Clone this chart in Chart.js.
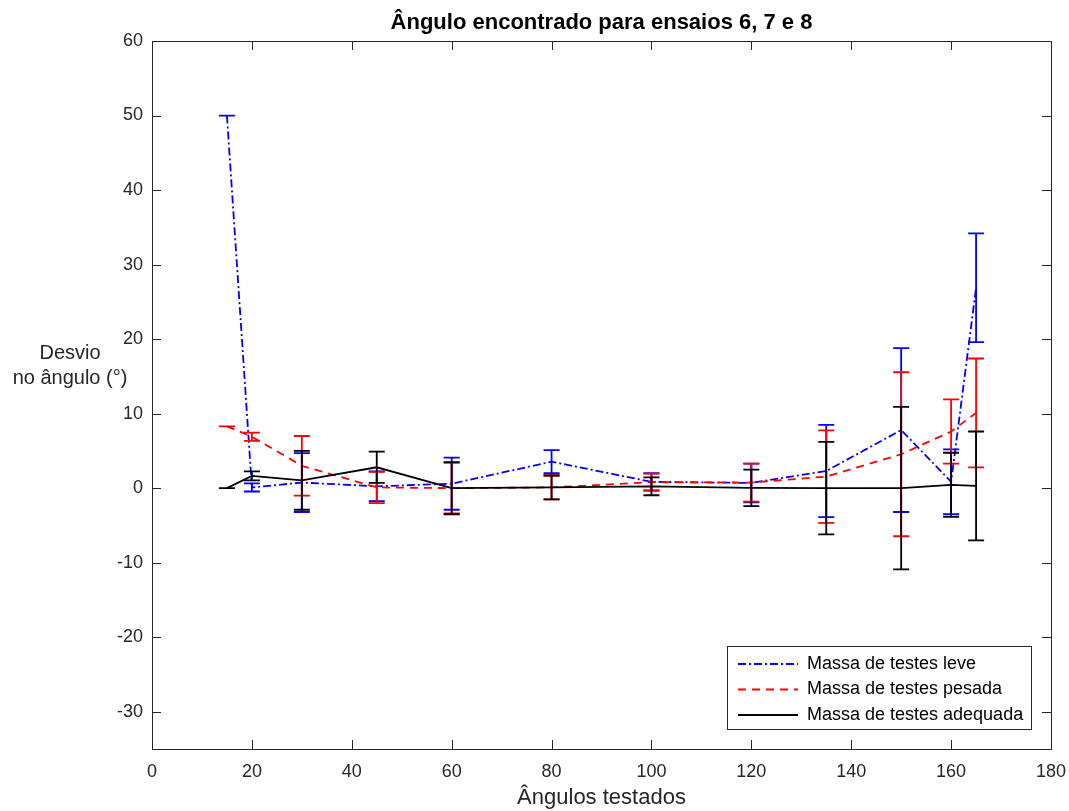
<!DOCTYPE html>
<html>
<head>
<meta charset="utf-8">
<script src="https://cdn.jsdelivr.net/npm/chart.js@4.4.1/dist/chart.umd.min.js"></script>
<style>
  html, body { margin: 0; padding: 0; background: #fff; }
  #wrap { width: 1069px; height: 811px; }
</style>
</head>
<body>
<div id="wrap"><canvas id="chart" width="1069" height="811"></canvas></div>
<script>
// data
const angles = [15, 20, 30, 45, 60, 80, 100, 120, 135, 150, 160, 165];
const leveVals = [50, 0.1, 0.75, 0.25, 0.6, 3.55, 0.85, 0.7, 2.3, 7.8, 0.85, 26.9];
const leveErr = [0, 0.55, 3.95, 2.0, 3.5, 1.55, 1.15, 2.6, 6.2, 11.0, 4.35, 7.3];
const pesadaVals = [8.3, 6.9, 3.0, 0.1, 0, 0.1, 0.8, 0.75, 1.55, 4.55, 7.6, 10.1];
const pesadaErr = [0, 0.55, 4.0, 2.1, 3.4, 1.6, 1.15, 2.55, 6.2, 11.0, 4.3, 7.3];
const adequadaVals = [0, 1.65, 1.05, 2.8, 0, 0.1, 0.25, 0.05, 0, 0, 0.45, 0.3];
const adequadaErr = [0, 0.6, 3.95, 2.1, 3.5, 1.6, 1.2, 2.45, 6.2, 10.9, 4.3, 7.3];
const xTicks = [0, 20, 40, 60, 80, 100, 120, 140, 160, 180];
const yTicks = [-30, -20, -10, 0, 10, 20, 30, 40, 50, 60];

const labels = ['Massa de testes leve', 'Massa de testes pesada', 'Massa de testes adequada'];
const errs = [leveErr, pesadaErr, adequadaErr];
const FONT = '"Liberation Sans", Arial, sans-serif';
const AXIS = '#262626';

const pts = vals => vals.map((v, i) => ({ x: angles[i], y: v }));

// error bars, drawn right after each line so the stacking matches
const errorBars = {
    id: 'errorBars',
    afterDatasetDraw(chart, args) {
        const i = args.index;
        const ds = chart.data.datasets[i];
        const xs = chart.scales.x, ys = chart.scales.y;
        const ctx = chart.ctx;
        ctx.save();
        ctx.strokeStyle = ds.borderColor;
        ctx.lineWidth = 1.8;
        ctx.setLineDash([]);
        ds.data.forEach((p, k) => {
            const e = errs[i][k];
            const px = xs.getPixelForValue(p.x);
            const top = ys.getPixelForValue(p.y + e);
            const bot = ys.getPixelForValue(p.y - e);
            ctx.beginPath();
            ctx.moveTo(px, top); ctx.lineTo(px, bot);
            ctx.moveTo(px - 8, top); ctx.lineTo(px + 8, top);
            ctx.moveTo(px - 8, bot); ctx.lineTo(px + 8, bot);
            ctx.stroke();
        });
        ctx.restore();
    }
};

// box, inward ticks, titles, legend in the MATLAB look
const frame = {
    id: 'frame',
    afterDraw(chart) {
        const { ctx, chartArea: a } = chart;
        const xs = chart.scales.x, ys = chart.scales.y;
        ctx.save();
        ctx.strokeStyle = AXIS;
        ctx.lineWidth = 1;
        ctx.setLineDash([]);
        ctx.strokeRect(a.left + 0.5, a.top + 0.5, a.right - a.left, a.bottom - a.top);
        ctx.beginPath();
        xTicks.forEach(t => {
            const px = Math.round(xs.getPixelForValue(t)) + 0.5;
            ctx.moveTo(px, a.bottom); ctx.lineTo(px, a.bottom - 9);
            ctx.moveTo(px, a.top); ctx.lineTo(px, a.top + 9);
        });
        yTicks.forEach(t => {
            const py = Math.round(ys.getPixelForValue(t)) + 0.5;
            ctx.moveTo(a.left, py); ctx.lineTo(a.left + 9, py);
            ctx.moveTo(a.right, py); ctx.lineTo(a.right - 9, py);
        });
        ctx.stroke();

        ctx.fillStyle = '#000';
        ctx.textAlign = 'center';
        ctx.textBaseline = 'middle';
        ctx.font = 'bold 22px ' + FONT;
        ctx.fillText('Ângulo encontrado para ensaios 6, 7 e 8', (a.left + a.right) / 2, 23);
        ctx.fillStyle = AXIS;
        ctx.font = '22px ' + FONT;
        ctx.fillText('Ângulos testados', (a.left + a.right) / 2, 798);
        ctx.font = '20px ' + FONT;
        ctx.fillText('Desvio', 70, 353);
        ctx.fillText('no ângulo (°)', 70, 378);

        // legend
        const lx = 727, ly = 646, lw = 304, lh = 83;
        ctx.fillStyle = '#fff';
        ctx.fillRect(lx, ly, lw, lh);
        ctx.strokeStyle = AXIS;
        ctx.strokeRect(lx + 0.5, ly + 0.5, lw, lh);
        chart.data.datasets.forEach((ds, i) => {
            const y = ly + 18 + i * 25.5;
            ctx.strokeStyle = ds.borderColor;
            ctx.lineWidth = 1.8;
            ctx.setLineDash(ds.borderDash || []);
            ctx.beginPath();
            ctx.moveTo(lx + 11, y); ctx.lineTo(lx + 71, y);
            ctx.stroke();
            ctx.setLineDash([]);
            ctx.fillStyle = '#000';
            ctx.textAlign = 'left';
            ctx.font = '18px ' + FONT;
            ctx.fillText(ds.label, lx + 80, y);
        });
        ctx.restore();
    }
};

new Chart(document.getElementById('chart'), {
    type: 'line',
    data: {
        datasets: [
            { label: labels[0], data: pts(leveVals), borderColor: '#0000ff', borderDash: [8, 3, 2, 3], order: 3 },
            { label: labels[1], data: pts(pesadaVals), borderColor: '#ff0000', borderDash: [8, 6], order: 2 },
            { label: labels[2], data: pts(adequadaVals), borderColor: '#000000', order: 1 }
        ]
    },
    options: {
        responsive: false,
        animation: false,
        layout: { padding: { top: 41, right: 18, left: 0, bottom: 0 } },
        elements: {
            line: { borderWidth: 1.8, tension: 0, fill: false },
            point: { radius: 0, hoverRadius: 0 }
        },
        plugins: { legend: { display: false }, title: { display: false }, tooltip: { enabled: false } },
        scales: {
            x: {
                type: 'linear', min: 0, max: 180,
                afterBuildTicks: s => { s.ticks = xTicks.map(v => ({ value: v })); },
                afterFit: s => { s.height = 62; s.paddingLeft = 0; s.paddingRight = 0; },
                grid: { display: false, drawTicks: false },
                border: { display: false },
                ticks: { color: AXIS, padding: 12, font: { family: FONT, size: 18 }, maxRotation: 0 }
            },
            y: {
                type: 'linear', min: -35, max: 60,
                afterBuildTicks: s => { s.ticks = yTicks.map(v => ({ value: v })); },
                afterFit: s => { s.width = 152; s.paddingTop = 0; s.paddingBottom = 0; },
                grid: { display: false, drawTicks: false },
                border: { display: false },
                ticks: { color: AXIS, padding: 9, font: { family: FONT, size: 18 } }
            }
        }
    },
    plugins: [errorBars, frame]
});
</script>
</body>
</html>
